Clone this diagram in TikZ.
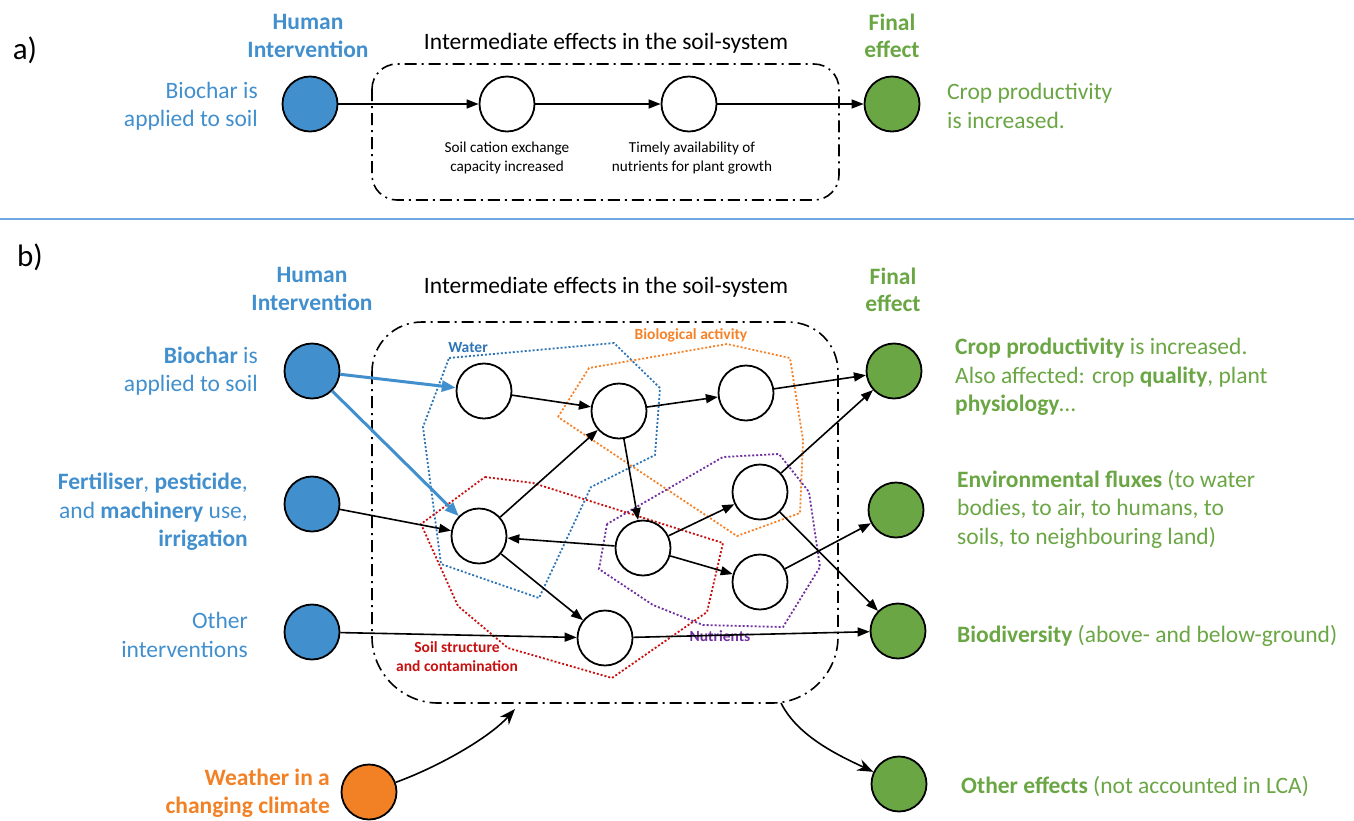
\documentclass[tikz,border=0pt]{standalone}
\usepackage{fontspec}
\setmainfont{Carlito}
\usetikzlibrary{arrows.meta}
\definecolor{interblue}{RGB}{66,143,206}
\definecolor{effgreen}{RGB}{106,166,68}
\definecolor{wxorange}{RGB}{242,128,36}
\definecolor{waterblue}{RGB}{46,117,182}
\definecolor{bioorange}{RGB}{245,130,40}
\definecolor{soilred}{RGB}{200,16,16}
\definecolor{nutpurple}{RGB}{112,48,160}
\definecolor{rulecol}{RGB}{110,170,225}

\begin{document}
\begin{tikzpicture}[x=1pt,y=-1pt,
    bigtxt/.style={inner sep=0pt,font=\fontsize{23.5}{28.5}\selectfont},
    headtxt/.style={inner sep=0pt,align=center,font=\fontsize{23.5}{27.5}\selectfont\bfseries},
    smalltxt/.style={inner sep=0pt,align=center,font=\fontsize{15.2}{19.5}\selectfont},
    zonetxt/.style={inner sep=0pt,align=center,font=\fontsize{15.5}{19}\selectfont\bfseries},
    stnode/.style={circle,draw=black,line width=1.8pt,fill=white,minimum size=2*\rnode,inner sep=0pt},
    innode/.style={stnode,fill=interblue},
    fxnode/.style={stnode,fill=effgreen},
    flow/.style={line width=1.6pt,-{Triangle[length=12pt,width=9pt]}},
    bioflow/.style={line width=3pt,interblue,-{Triangle[length=14pt,width=11pt]}},
    curveflow/.style={line width=1.6pt,-{Stealth[length=16pt,width=12pt]}},
    soilbox/.style={line width=1.6pt,dash pattern=on 12pt off 5pt on 2pt off 5pt},
    zone/.style={line width=1.8pt,dash pattern=on 2pt off 2pt}]
  \pgfmathsetmacro\rnode{27.5}   % radius of a state circle
  \useasboundingbox (0,0) rectangle (1354,820);

% a) one chain of effects
  \node[font=\fontsize{31}{31}\selectfont] (labA) at (25,50) {a)};
  \node[headtxt,text=interblue] (humanA) at (308,36) {Human\\Intervention};
  \node[bigtxt] (midA) at (606,43) {Intermediate effects in the soil-system};
  \node[headtxt,text=effgreen] (finalA) at (892,36) {Final\\effect};
  \draw[soilbox,rounded corners=25pt] (372,64) rectangle (839,200);
  \node[innode] (bioA) at (310,104) {};
  \node[stnode] (cecA) at (507,104) {};
  \node[stnode] (nutA) at (689,104) {};
  \node[fxnode] (cropA) at (892,104) {};
  \node[bigtxt,text=interblue,anchor=east,align=right] (bioAtxt) at (258,106) {Biochar is\\applied to soil};
  \node[bigtxt,text=effgreen,anchor=west,align=left] (cropAtxt) at (947,106) {Crop productivity\\is increased.};
  \node[smalltxt] (cecAtxt) at (507,158) {Soil cation exchange\\capacity increased};
  \node[smalltxt] (nutAtxt) at (692,158) {Timely availability of\\nutrients for plant growth};
  \draw[flow] (bioA) -- (cecA);
  \draw[flow] (cecA) -- (nutA);
  \draw[flow] (nutA) -- (cropA);

  \draw[rulecol,line width=1.2pt] (0,219) -- (1354,219);

% b) network of effects, zones first
  \node[font=\fontsize{31}{31}\selectfont] (labB) at (30,257) {b)};
  \node[headtxt,text=interblue] (humanB) at (312,289) {Human\\Intervention};
  \node[bigtxt] (midB) at (606,287) {Intermediate effects in the soil-system};
  \node[headtxt,text=effgreen] (finalB) at (893,290) {Final\\effect};
  \draw[soilbox] (372,372) -- (372,637) .. controls (372,673) and (402,703) .. (438,703)
                 -- (772,703) .. controls (808,703) and (838,673) .. (838,637)
                 -- (838,372) .. controls (838,344) and (816,322) .. (788,322)
                 -- (422,322) .. controls (394,322) and (372,344) .. (372,372) -- cycle;

  \draw[zone,waterblue] (449,358) -- (614,343) -- (660,388) -- (655,455) -- (591,487)
                        -- (539,598) -- (441,564) -- (423,427) -- cycle;
  \draw[zone,bioorange] (558,417) -- (589,368) -- (727,344) -- (790,358) -- (803,440)
                        -- (800,513) -- (737,536) -- cycle;
  \draw[zone,soilred]   (485,477) -- (533,483) -- (723,543) -- (707,612) -- (612,678)
                        -- (508,648) -- (458,606) -- (421,524) -- cycle;
  \draw[zone,nutpurple] (607,524) -- (599,569) -- (653,605) -- (703,625) -- (783,627)
                        -- (820,567) -- (809,492) -- (779,454) -- (723,457) -- cycle;
  \node[zonetxt,text=waterblue] (waterTxt) at (468,348) {Water};
  \node[zonetxt,text=bioorange] (bioactTxt) at (691,335) {Biological activity};
  \node[zonetxt,text=nutpurple] (nutTxt) at (720,636) {Nutrients};
  \node[zonetxt,text=soilred] (soilTxt) at (457,657) {Soil structure\\and contamination};

  \node[innode] (hBio) at (312,371) {};
  \node[innode] (hFert) at (312,504) {};
  \node[innode] (hOther) at (312,632) {};
  \node[stnode,fill=wxorange] (hWeather) at (369,792) {};
  \node[bigtxt,text=interblue,anchor=east,align=right] (hBioTxt) at (258,371) {\textbf{Biochar} is\\applied to soil};
  \node[bigtxt,text=interblue,anchor=east,align=right] (hFertTxt) at (248,512) {\textbf{Fertiliser}, \textbf{pesticide},\\and \textbf{machinery} use,\\\textbf{irrigation}};
  \node[bigtxt,text=interblue,anchor=east,align=right] (hOtherTxt) at (248,635) {Other\\interventions};
  \node[bigtxt,text=wxorange,anchor=east,align=right,font=\fontsize{23.5}{28.5}\selectfont\bfseries] (hWeatherTxt) at (330,793) {Weather in a\\changing climate};

  \node[stnode] (sW) at (484,391) {};
  \node[stnode] (sB1) at (619,411) {};
  \node[stnode] (sB2) at (746,393) {};
  \node[stnode] (sN2) at (760,492) {};
  \node[stnode] (sS1) at (479,536) {};
  \node[stnode] (sC) at (643,548) {};
  \node[stnode] (sN3) at (760,582) {};
  \node[stnode] (sS2) at (605,638) {};

  \node[fxnode] (fCrop) at (894,371) {};
  \node[fxnode] (fEnv) at (896,510) {};
  \node[fxnode] (fBio) at (898,631) {};
  \node[fxnode] (fOther) at (899,784) {};
  \node[bigtxt,text=effgreen,anchor=west,align=left] (fCropTxt) at (955,377) {\textbf{Crop productivity} is increased.\\Also affected: crop \textbf{quality}, plant\\\textbf{physiology}…};
  \node[bigtxt,text=effgreen,anchor=west,align=left] (fEnvTxt) at (957,509) {\textbf{Environmental fluxes} (to water\\bodies, to air, to humans, to\\soils, to neighbouring land)};
  \node[bigtxt,text=effgreen,anchor=west] (fBioTxt) at (957,636) {\textbf{Biodiversity} (above- and below-ground)};
  \node[bigtxt,text=effgreen,anchor=west] (fOtherTxt) at (961,787) {\textbf{Other effects} (not accounted in LCA)};

  \coordinate (wxTip) at (515,709);
  \coordinate (oxStart) at (781,703);

  \draw[bioflow] (hBio) -- (sW);
  \draw[bioflow] (hBio) -- (sS1);
  \draw[flow] (hFert) -- (sS1);
  \draw[flow] (hOther) -- (sS2);
  \draw[flow] (sW) -- (sB1);
  \draw[flow] (sS1) -- (sB1);
  \draw[flow] (sB1) -- (sB2);
  \draw[flow] (sB1) -- (sC);
  \draw[flow] (sC) -- (sS1);
  \draw[flow] (sS1) -- (sS2);
  \draw[flow] (sC) -- (sN2);
  \draw[flow] (sC) -- (sN3);
  \draw[flow] (sB2) -- (fCrop);
  \draw[flow] (sN2) -- (fCrop);
  \draw[flow] (sN2) -- (fBio);
  \draw[flow] (sN3) -- (fEnv);
  \draw[flow] (sS2) -- (fBio);
  \draw[curveflow] (hWeather) .. controls (438,767) and (489,738) .. (wxTip);
  \draw[curveflow] (oxStart) .. controls (798,737) and (840,756) .. (fOther);
\end{tikzpicture}
\end{document}
